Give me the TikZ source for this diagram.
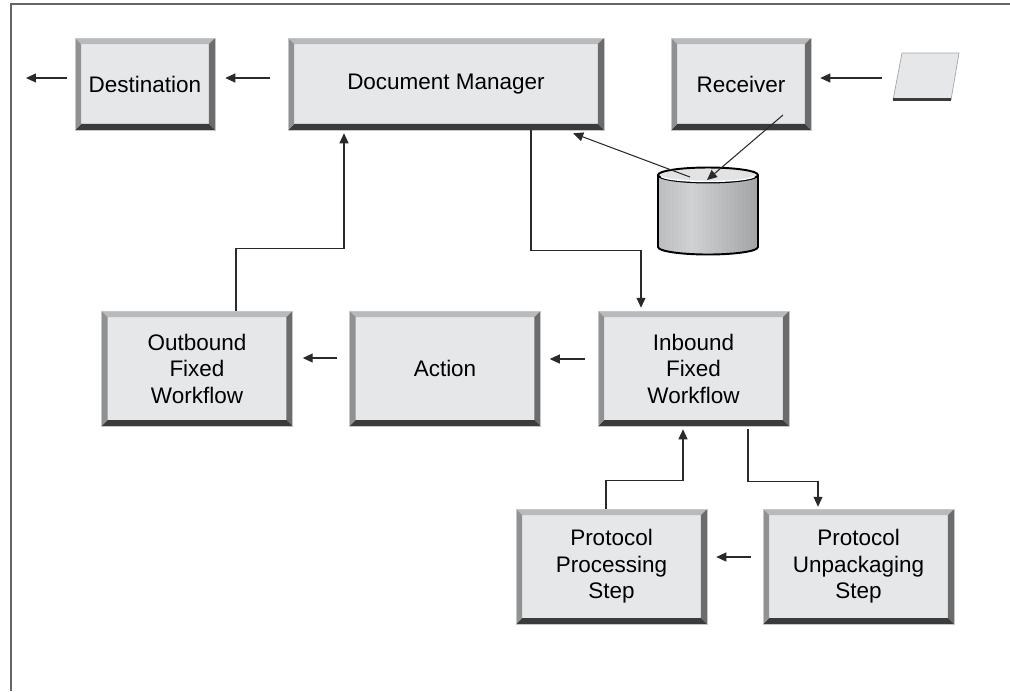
\documentclass[tikz,border=0pt]{standalone}
\usepackage{fontspec}
\setmainfont{Liberation Sans}
\usetikzlibrary{arrows.meta}

\definecolor{boxface}{HTML}{E6E7E8}
\definecolor{bevtop}{HTML}{B9BABC}
\definecolor{bevleft}{HTML}{909193}
\definecolor{bevright}{HTML}{6B6C6E}
\definecolor{bevbot}{HTML}{3B3B3C}
\definecolor{cylleft}{HTML}{BDBEC0}
\definecolor{cylmid}{HTML}{D0D1D3}
\definecolor{cylright}{HTML}{A4A5A7}
\definecolor{cyltop}{HTML}{E2E3E5}
\definecolor{wire}{HTML}{2A2A2A}

\tikzset{
  box/.style={draw=gray!45, line width=0.3pt, fill=boxface, inner sep=0pt, align=center,
    font=\fontsize{12.8}{15.1}\selectfont, minimum width=#1, minimum height=2.3cm,
    path picture={
      \coordinate (bnw) at (path picture bounding box.north west);
      \coordinate (bne) at (path picture bounding box.north east);
      \coordinate (bse) at (path picture bounding box.south east);
      \coordinate (bsw) at (path picture bounding box.south west);
      \fill[bevtop]   (bnw) -- (bne) -- ([shift={(-6,6)}]bne) -- ([shift={(6,6)}]bnw) -- cycle;
      \fill[bevright] (bne) -- (bse) -- ([shift={(-6,-6)}]bse) -- ([shift={(-6,6)}]bne) -- cycle;
      \fill[bevbot]   (bse) -- (bsw) -- ([shift={(6,-6)}]bsw) -- ([shift={(-6,-6)}]bse) -- cycle;
      \fill[bevleft]  (bsw) -- (bnw) -- ([shift={(6,6)}]bnw) -- ([shift={(6,-6)}]bsw) -- cycle;
    }},
  box/.default=3.82cm,
  flatbox/.style={box=#1, minimum height=1.84cm},
  arr/.style={wire, line width=0.6pt, -{Triangle[length=2mm,width=1.8mm]}},
  cylline/.style={black, line width=1.1pt}
}

\begin{document}
\begin{tikzpicture}[x=0.02cm,y=-0.02cm]
\useasboundingbox (0,0) rectangle (1010,691);
\draw [gray!80!black, line width=0.9pt] (1010,4) -- (11,4) -- (11,691);

\node [flatbox=2.8cm] (dest) at (145,84) {Destination};
\node [flatbox=6.32cm] (dm) at (446,84) {Document Manager};
\node [flatbox=2.8cm] (recv) at (741,84) {Receiver};

\filldraw [fill=boxface, draw=gray!70, line width=0.4pt] (893,100) -- (902,53) -- (959,53) -- (951,100) -- cycle;
\draw [bevbot, line width=1.4pt] (893,99.5) -- (951,99.5);
\coordinate (doc) at (897,78);

\begin{scope}
\clip (658,175) -- (658,247)
  arc [start angle=180, end angle=360, x radius=1cm, y radius=0.15cm] -- (758,175) -- cycle;
\foreach \i in {0,...,24} {
  \pgfmathtruncatemacro\p{\i<8 ? 100*\i/8 : 100*(\i-8)/16}
  \ifnum\i<8 \colorlet{strip}{cylmid!\p!cylleft}\else\colorlet{strip}{cylright!\p!cylmid}\fi
  \fill [strip] (658+4*\i,170) rectangle ++(4.6,90);
}
\end{scope}
\draw [cylline] (658,175) -- (658,247)
  arc [start angle=180, end angle=360, x radius=1cm, y radius=0.15cm] -- (758,175);
\filldraw [cylline, fill=cyltop] (708,175) ellipse [x radius=1cm, y radius=0.15cm];
\draw [white, line width=0.8pt] (661,176.5) arc [start angle=190, end angle=350, x radius=0.95cm, y radius=0.12cm];
\coordinate (db) at (708,176);
\coordinate (exit) at (26,78);

\node [box] (outb) at (197,368.5) {Outbound\\Fixed\\Workflow};
\node [box] (action) at (445,368.5) {Action};
\node [box] (inb) at (693.5,368.5) {Inbound\\Fixed\\Workflow};
\node [box] (proc) at (611.5,566.5) {Protocol\\Processing\\Step};
\node [box] (unpack) at (858.5,566.5) {Protocol\\Unpackaging\\Step};

\draw [arr] ([shift={(-8,-6)}]dest.west) -- (exit);
\draw [arr] ([shift={(-18,-6)}]dm.west) -- ([shift={(10,-6)}]dest.east);
\draw [arr] ([shift={(-15,0)}]doc) -- ([shift={(9,-6)}]recv.east);
\draw [arr] ([shift={(42,31)}]recv.center) -- ([shift={(-1,4)}]db);
\draw [arr] ([shift={(-18,1)}]db) -- ([shift={(-31,3)}]dm.south east);
\draw [arr] ([shift={(85,0)}]dm.south) -- ++(0,120) -| ([shift={(-52.5,-3)}]inb.north);
\draw [arr] ([shift={(39,0)}]outb.north) -- ++(0,-62) -| ([shift={(-102,3)}]dm.south);
\draw [arr] ([shift={(-12,-10.5)}]action.west) -- ([shift={(10,-10.5)}]outb.east);
\draw [arr] ([shift={(-13,-9.5)}]inb.west) -- ([shift={(9,-9.5)}]action.east);
\draw [arr] ([shift={(-5.5,0)}]proc.north) -- ++(0,-28) -| ([shift={(-10.5,3)}]inb.south);
\draw [arr] ([shift={(54.5,3)}]inb.south) -- ++(0,52) -| ([shift={(-40.5,-2)}]unpack.north);
\draw [arr] ([shift={(-12,-9.5)}]unpack.west) -- ([shift={(9,-9.5)}]proc.east);
\end{tikzpicture}
\end{document}
